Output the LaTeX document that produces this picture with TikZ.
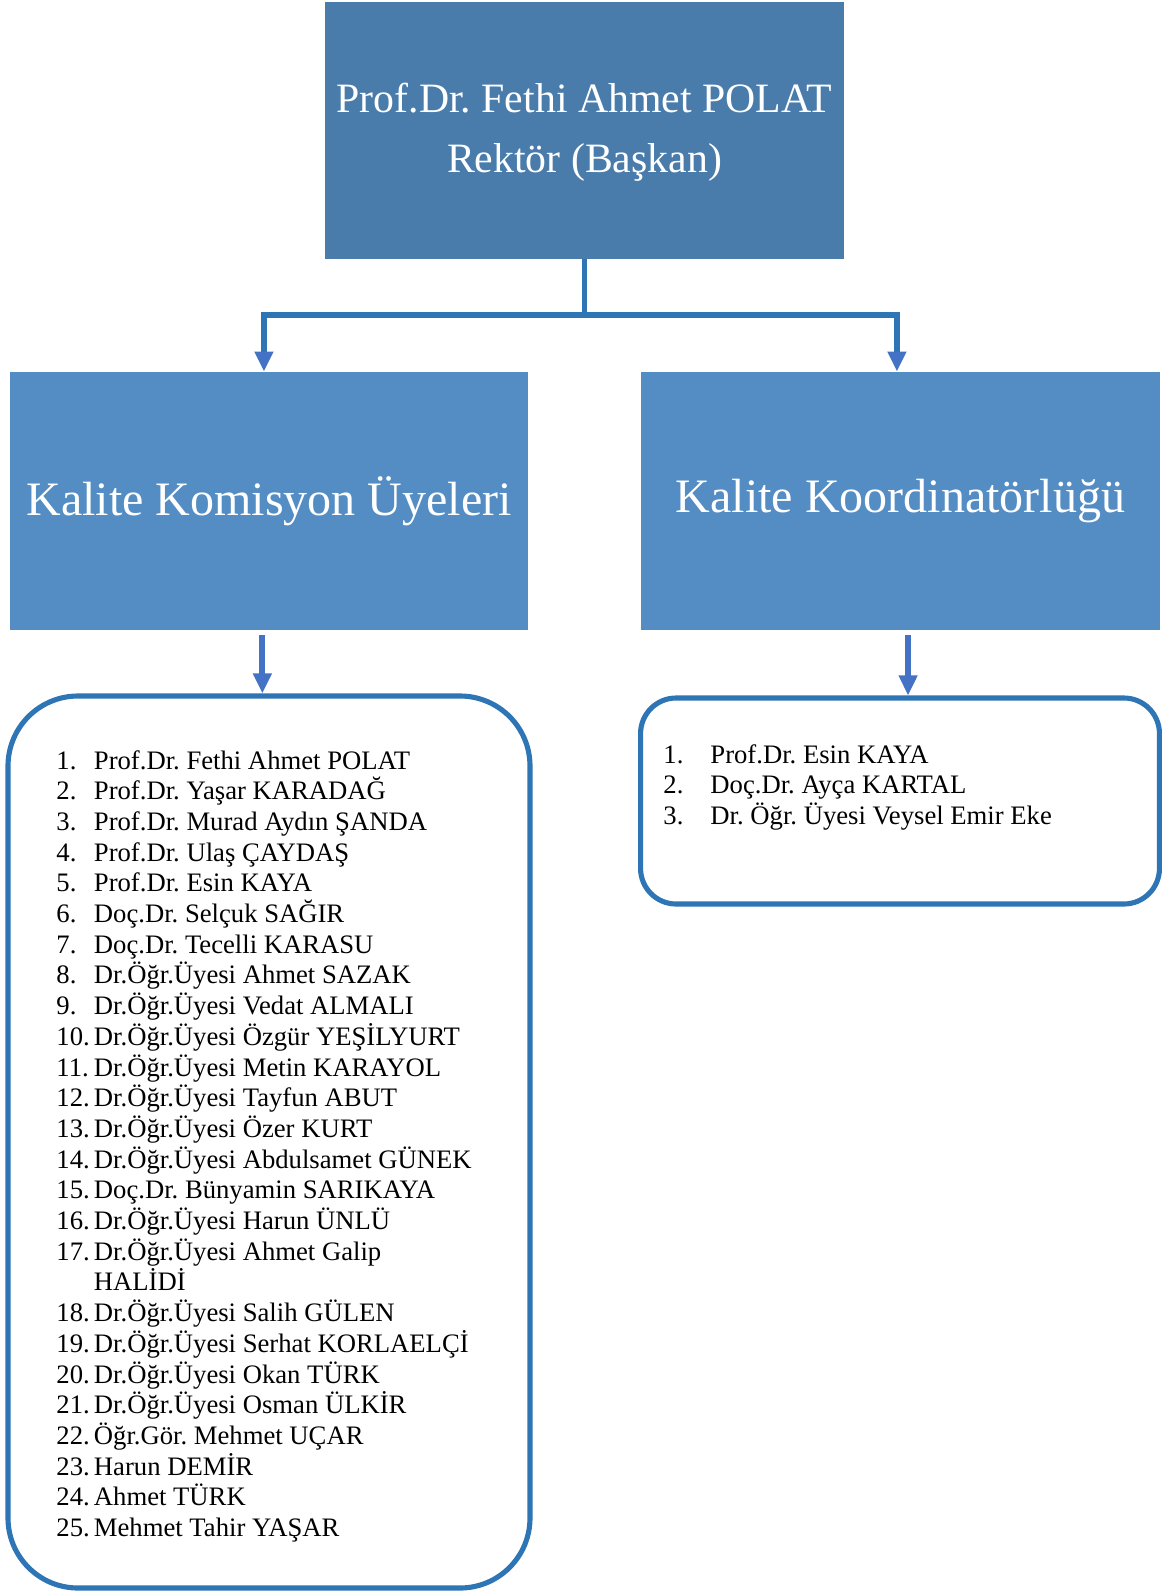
\documentclass[tikz,border=0pt]{standalone}
\usepackage{fontspec}
\setmainfont{Liberation Serif}
\usetikzlibrary{arrows.meta}

\definecolor{topblue}{RGB}{73,124,171}
\definecolor{midblue}{RGB}{84,141,196}
\definecolor{lineblue}{RGB}{46,117,182}
\definecolor{arrowblue}{RGB}{68,114,196}

\frenchspacing

\begin{document}
\begin{tikzpicture}[x=0.45pt, y=-0.45pt,
    headbox/.style={fill=topblue, text=white, inner sep=0pt, align=center,
      minimum width=233.5pt, minimum height=115.6pt,
      font=\fontsize{18.8}{27.2}\selectfont},
    unitbox/.style={fill=midblue, text=white, inner sep=0pt, align=center,
      minimum width=233.3pt, minimum height=116.1pt,
      font=\fontsize{21.6}{26}\selectfont},
    listbox/.style={draw=lineblue, line width=2.3pt, inner sep=0pt},
    listitem/.style={anchor=base west, inner sep=0pt,
      font=\fontsize{12}{13.8}\selectfont},
    elbow/.style={draw=lineblue, line width=2.6pt,
      -{Triangle[width=8pt, length=9pt, color=arrowblue]}},
    down/.style={draw=arrowblue, line width=2.7pt,
      -{Triangle[width=8pt, length=9pt]}}]

  \useasboundingbox (0,0) rectangle (1162,1592);

  % top and the two units
  \node[headbox] (rektor) at (584.5,130.5)
    {\raisebox{-1pt}{\begin{tabular}{@{}c@{}}Prof.Dr. Fethi Ahmet POLAT\\Rektör (Başkan)\end{tabular}}};
  \node[unitbox] (komisyon) at (269,501) {\raisebox{-1pt}{Kalite Komisyon Üyeleri}};
  \node[unitbox] (koord) at (900.5,501) {\raisebox{-1pt}{Kalite Koordinatörlüğü}};

  % the two lists
  \node[listbox, rounded corners=31.5pt, minimum width=234.9pt, minimum height=401.4pt]
    (komlist) at (269,1142) {};
  \node[listbox, rounded corners=16pt, minimum width=233.5pt, minimum height=92.7pt]
    (koordlist) at (900,801) {};

  % connectors
  \coordinate (bus) at (585,315);
  \draw[elbow] (rektor.south) -- (rektor.south |- bus) -| ([xshift=-2.3pt]komisyon.north);
  \draw[elbow] (rektor.south) -- (rektor.south |- bus) -| ([xshift=-1.6pt]koord.north);
  \draw[down, shorten <=2pt] ([xshift=-3pt]komisyon.south)
    -- ([xshift=-3pt]komisyon.south |- komlist.north);
  \draw[down, shorten <=2pt] ([xshift=3.4pt]koord.south)
    -- ([xshift=3.4pt]koord.south |- koordlist.north);

  % members
  \foreach \n/\txt [count=\i] in {
      1./Prof.Dr. Fethi Ahmet POLAT,
      2./Prof.Dr. Yaşar KARADAĞ,
      3./Prof.Dr. Murad Aydın ŞANDA,
      4./Prof.Dr. Ulaş ÇAYDAŞ,
      5./Prof.Dr. Esin KAYA,
      6./Doç.Dr. Selçuk SAĞIR,
      7./Doç.Dr. Tecelli KARASU,
      8./Dr.Öğr.Üyesi Ahmet SAZAK,
      9./Dr.Öğr.Üyesi Vedat ALMALI,
      10./Dr.Öğr.Üyesi Özgür YEŞİLYURT,
      11./Dr.Öğr.Üyesi Metin KARAYOL,
      12./Dr.Öğr.Üyesi Tayfun ABUT,
      13./Dr.Öğr.Üyesi Özer KURT,
      14./Dr.Öğr.Üyesi Abdulsamet GÜNEK,
      15./Doç.Dr. Bünyamin SARIKAYA,
      16./Dr.Öğr.Üyesi Harun ÜNLÜ,
      17./Dr.Öğr.Üyesi Ahmet Galip,
      /HALİDİ,
      18./Dr.Öğr.Üyesi Salih GÜLEN,
      19./Dr.Öğr.Üyesi Serhat KORLAELÇİ,
      20./Dr.Öğr.Üyesi Okan TÜRK,
      21./Dr.Öğr.Üyesi Osman ÜLKİR,
      22./Öğr.Gör. Mehmet UÇAR,
      23./Harun DEMİR,
      24./Ahmet TÜRK,
      25./Mehmet Tahir YAŞAR} {
    \node[listitem] (komno\i) at (56,{769+30.7*(\i-1)}) {\n};
    \node[listitem] (komname\i) at (93.5,{769+30.7*(\i-1)}) {\txt};
  }

  \foreach \n/\txt [count=\i] in {
      1./Prof.Dr. Esin KAYA,
      2./Doç.Dr. Ayça KARTAL,
      3./Dr. Öğr. Üyesi Veysel Emir Eke} {
    \node[listitem] (koordno\i) at (663,{763+30.5*(\i-1)}) {\n};
    \node[listitem] (koordname\i) at (710,{763+30.5*(\i-1)}) {\txt};
  }

\end{tikzpicture}
\end{document}
